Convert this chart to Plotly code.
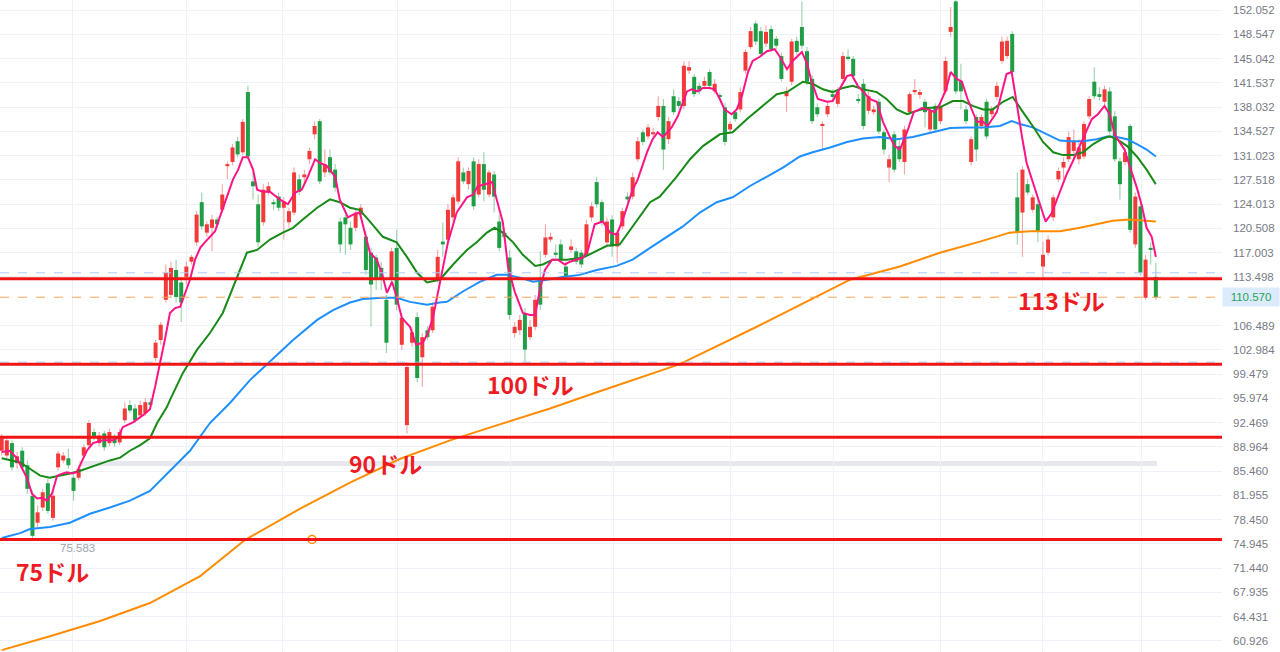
import numpy as np
import plotly.graph_objects as go

# ---------------- candle data ----------------
opens = [88.4,87.7,89.5,86.6,88.4,86.3,81.9,78.0,80.2,83.7,78.7,86.0,87.0,87.3,84.5,84.5,87.7,89.2,91.1,89.5,
         90.9,89.5,90.3,89.6,92.8,95.0,94.5,93.5,93.8,95.4,101.8,104.4,110.2,110.9,114.5,112.7,113.5,115.7,118.5,124.3,
         119.9,120.6,121.8,123.2,129.5,130.1,133.1,131.5,140.2,127.3,124.0,121.4,125.7,124.3,125.1,123.5,121.4,122.8,127.6,127.9,
         130.5,134.1,136.0,128.6,130.8,129.0,121.5,122.1,120.6,120.6,122.5,119.3,117.0,116.3,114.8,110.2,113.1,117.7,103.7,92.1,
         104.0,107.7,101.9,105.8,105.8,113.1,118.6,118.9,122.1,124.4,128.6,126.9,130.2,125.4,129.8,125.4,128.3,121.5,119.9,116.3,
         105.4,105.8,108.3,104.8,106.3,113.4,116.7,118.9,117.0,118.2,115.0,117.4,117.2,117.0,116.7,122.1,127.2,124.3,118.5,121.8,
         117.9,120.8,125.1,125.1,130.5,134.4,133.8,134.1,136.6,138.2,133.4,139.6,138.9,138.2,143.3,142.4,141.1,141.1,143.1,140.3,
         139.6,138.0,134.8,137.3,137.7,143.3,146.7,150.1,149.0,147.2,149.3,147.9,145.4,139.6,141.7,147.6,149.6,146.1,142.1,138.0,
         135.3,137.0,139.9,138.5,142.1,145.3,145.0,139.2,141.4,137.5,137.3,138.8,134.4,129.3,134.1,132.4,130.1,137.3,140.2,139.8,
         138.8,134.8,138.2,136.0,140.3,148.9,153.3,141.8,137.7,130.1,136.6,135.3,138.8,137.0,139.5,144.7,145.4,148.6,125.0,122.8,
         126.9,123.2,124.0,115.0,117.0,122.1,127.6,129.3,130.5,131.7,130.5,130.9,136.7,141.7,139.9,138.8,140.3,136.7,130.2,130.1,
         135.3,118.2,123.7,110.5,117.7,113.5]
highs = [90.8,90.5,89.9,88.2,88.9,87.0,82.6,80.5,82.9,84.4,82.6,88.4,88.2,88.7,85.3,86.3,89.3,92.8,91.6,91.1,
         91.3,91.6,90.8,91.6,95.4,95.7,95.1,95.6,96.0,96.0,104.4,107.0,115.3,115.7,116.0,113.4,115.7,116.7,123.0,125.7,
         121.5,122.5,122.2,126.9,130.2,132.7,133.7,136.3,141.1,128.6,125.4,126.9,127.2,124.7,125.7,125.0,123.5,129.3,128.3,129.0,
         132.2,136.0,136.3,131.9,131.9,129.8,122.1,122.5,121.5,123.2,124.0,120.1,117.7,116.7,115.7,110.9,117.7,120.3,108.3,101.2,
         106.3,108.4,105.4,106.4,109.8,117.4,121.4,124.0,125.4,130.8,129.3,129.3,130.8,130.5,131.5,129.0,128.8,122.5,120.6,117.4,
         107.0,108.0,109.0,107.3,110.9,117.2,121.1,119.9,118.2,118.9,115.7,118.9,117.7,117.4,121.8,124.3,127.9,124.7,122.1,122.4,
         120.3,123.5,125.7,128.6,133.7,134.8,135.6,135.1,139.6,139.2,136.6,140.6,139.5,144.6,144.7,142.8,141.5,142.4,143.5,142.1,
         140.1,138.6,136.0,137.7,140.9,146.4,149.6,150.5,149.6,149.9,149.8,148.3,145.9,140.9,147.9,148.2,153.3,146.7,142.7,138.6,
         136.0,138.8,140.6,140.9,146.0,146.4,145.4,139.9,142.1,140.2,138.2,139.2,134.8,131.2,134.5,133.4,135.3,140.3,142.1,140.6,
         139.2,138.0,138.6,138.6,145.3,152.5,153.5,144.3,138.3,133.8,137.0,137.0,139.2,138.2,141.7,148.2,148.2,149.0,128.6,129.5,
         127.6,125.4,124.7,118.6,119.5,125.4,129.3,130.8,134.5,134.8,133.4,136.0,139.6,143.8,140.9,141.1,140.9,137.5,130.8,131.9,
         135.6,125.7,124.1,116.7,118.5,115.6]
lows = [87.7,87.3,85.5,85.8,85.5,82.2,75.7,77.3,79.7,79.3,78.3,85.5,86.6,85.8,81.2,84.1,87.3,88.7,89.9,89.0,
        88.4,89.0,89.0,89.2,92.4,93.8,92.4,93.1,93.4,94.2,101.3,103.7,109.8,110.5,109.8,107.0,112.4,115.3,118.0,120.3,
        119.3,117.2,120.6,122.8,127.6,129.6,130.8,131.1,130.5,124.7,117.9,120.9,125.3,123.2,123.0,118.9,120.6,122.4,125.3,126.9,
        129.8,133.4,126.9,127.9,128.2,125.8,117.0,116.7,117.4,120.1,122.1,113.8,106.3,111.6,111.6,102.5,112.4,108.7,103.0,90.9,
        103.4,98.3,97.6,104.4,105.4,112.7,116.4,118.5,121.5,124.0,126.9,126.1,123.2,125.0,124.4,125.0,122.8,117.2,118.9,107.3,
        104.7,105.1,101.2,104.4,105.8,108.7,116.3,118.5,116.3,115.6,113.1,117.0,115.3,114.8,116.3,121.5,123.5,120.9,118.0,116.4,
        115.6,120.3,124.3,124.7,130.1,132.5,133.4,133.7,136.1,129.0,132.7,136.9,137.7,137.7,142.8,139.5,139.9,140.6,140.6,139.9,
        139.2,132.5,134.4,135.9,137.3,142.8,146.4,147.0,145.3,146.7,146.0,146.4,141.7,137.3,141.2,145.6,146.4,141.2,135.6,136.6,
        131.9,136.6,139.0,138.0,141.7,144.7,142.1,138.5,134.8,137.0,136.9,134.1,131.2,127.2,128.6,130.1,128.3,136.9,139.8,139.2,
        135.1,134.4,134.4,135.6,139.9,148.2,139.9,137.7,135.6,129.6,130.2,134.8,133.4,136.6,139.0,144.3,145.0,142.7,118.2,116.4,
        125.3,122.8,118.5,113.5,116.6,121.6,127.2,127.6,130.1,130.5,129.8,130.5,136.3,139.2,139.0,138.3,134.1,130.1,124.7,129.6,
        119.9,117.7,113.7,110.2,115.3,110.2]
closes = [90.2,89.9,86.0,87.6,86.0,82.9,76.1,79.5,82.4,79.7,81.9,88.0,87.7,86.3,82.6,85.8,88.9,92.4,90.3,90.6,
          88.9,91.1,89.5,91.1,94.5,94.2,92.8,95.0,95.4,95.0,104.0,106.6,114.1,114.8,110.6,109.8,115.0,116.4,122.5,120.8,
          121.1,121.8,121.1,125.4,129.8,132.2,131.2,135.9,130.9,126.6,118.5,126.1,126.6,124.0,123.5,124.4,123.0,128.6,125.8,128.3,
          131.7,135.3,127.3,129.8,128.6,126.4,118.2,121.1,118.2,122.8,123.5,114.5,112.4,113.1,113.1,104.0,117.2,109.5,107.6,100.5,
          105.5,98.9,104.8,104.8,109.2,116.4,118.2,123.2,125.0,130.2,127.3,128.8,123.7,129.8,126.1,128.6,125.1,117.7,119.3,108.0,
          106.3,107.3,103.0,106.3,110.2,109.5,119.2,119.3,116.7,116.0,113.5,117.9,115.7,115.3,121.1,123.7,124.0,121.4,121.5,117.9,
          119.9,123.0,124.7,127.9,133.1,133.0,135.1,134.4,138.2,131.9,136.0,137.3,138.2,144.0,143.8,139.9,140.3,141.8,141.1,141.4,
          139.5,133.0,135.6,136.3,140.2,146.0,149.0,147.5,145.7,148.9,146.4,146.9,142.1,140.3,147.5,146.0,146.9,141.7,136.0,137.0,
          135.6,138.2,139.5,140.3,145.4,145.1,142.5,138.9,135.3,139.6,137.7,134.5,131.9,130.5,129.0,130.5,134.8,139.9,140.5,140.2,
          137.3,137.5,134.8,138.2,144.7,149.6,140.3,140.3,136.0,133.4,131.9,136.6,133.8,137.7,141.1,147.5,147.6,143.1,119.9,129.0,
          125.7,125.0,120.1,116.7,118.9,125.0,128.8,130.1,133.7,133.1,132.2,135.6,139.2,139.6,139.5,140.6,134.5,130.5,126.9,131.5,
          120.3,125.1,114.1,116.0,117.4,110.57]

# ---------------- moving averages ----------------
ma_short_x = [0,1.6,3.0,4.9,5.9,6.9,7.9,8.8,9.8,10.8,11.8,12.7,13.7,14.7,15.7,16.6,17.8,19.7,21.7,22.7,
              23.6,25.6,27.5,28.9,29.9,30.9,31.8,32.8,33.8,34.8,35.7,36.7,37.7,38.7,39.6,40.6,41.6,42.5,43.9,45.1,
              46.1,47.0,48.0,49.0,49.8,50.9,52.3,54.2,55.8,57.2,58.5,59.7,61.1,62.0,63.4,65.0,65.9,67.5,68.5,69.8,
              70.8,71.8,73.1,74.1,75.1,76.1,77.0,78.0,79.6,80.8,82.1,83.1,84.1,85.4,87.0,88.7,90.7,91.9,92.8,94.2,
              95.6,96.5,97.7,98.7,100.0,101.6,103.0,104.0,104.9,105.9,107.3,108.4,109.8,110.8,112.1,113.3,114.3,115.6,117.2,118.6,
              119.9,121.1,123.0,124.0,125.8,126.9,127.9,128.9,130.6,131.8,133.6,134.5,135.7,136.7,138.0,139.0,140.0,140.9,142.3,143.3,
              144.3,145.5,146.4,147.8,149.2,150.7,151.7,153.1,154.2,156.0,157.0,157.9,159.1,160.9,162.0,163.4,164.8,165.7,166.9,167.9,
              169.2,170.6,171.8,173.1,174.1,175.1,176.5,177.8,179.4,181.0,181.9,182.9,184.1,185.0,186.2,187.2,188.3,190.1,191.3,192.2,
              194.0,195.0,195.9,196.9,197.9,198.9,199.8,201.0,202.4,203.5,204.7,205.9,207.6,209.2,210.7,212.5,213.7,215.0,216.0,217.0,
              217.9,218.9,219.9,221.3,222.3,223.2,224.2,225.0]
ma_short = [88.2,88.4,87.3,84.5,82.2,81.5,81.6,81.2,82.2,84.8,85.1,85.3,85.1,85.3,87.0,88.4,89.5,89.9,89.9,90.3,
            91.8,92.5,93.5,94.4,97.6,101.1,104.4,108.3,109.0,109.2,111.2,113.1,116.0,117.7,118.5,119.3,120.1,122.1,125.1,127.6,
            129.0,130.8,130.8,129.0,126.1,125.8,125.8,124.7,124.0,125.7,126.1,128.0,130.5,130.0,129.5,128.0,124.7,122.1,122.5,122.8,
            119.9,117.0,116.0,114.1,111.2,112.8,110.6,107.6,106.3,103.7,104.0,105.4,107.7,112.4,118.5,122.8,125.0,125.4,126.6,126.9,
            127.2,124.7,121.4,115.0,111.4,108.3,108.0,108.0,111.6,114.5,116.0,116.0,115.3,115.7,116.0,116.3,117.4,121.1,121.5,119.9,
            119.6,121.8,126.1,127.6,131.5,133.4,134.4,133.7,135.1,136.7,140.3,140.6,140.3,140.8,140.8,140.6,139.2,137.7,137.0,137.7,
            139.6,143.1,144.7,145.3,146.1,146.4,145.3,143.5,144.7,146.0,144.3,141.7,139.2,138.8,138.9,140.6,142.5,142.7,141.1,140.3,
            139.2,138.8,135.9,133.8,132.4,131.9,134.4,137.3,137.9,137.6,137.3,138.5,140.6,143.1,142.1,141.7,139.2,135.9,135.9,135.3,
            137.3,140.2,142.8,143.1,138.2,133.8,130.0,127.3,124.0,121.5,122.7,125.1,128.3,130.8,133.4,136.3,137.0,138.2,137.0,134.1,
            133.0,131.9,129.5,126.4,123.7,120.6,119.3,116.4]

ma_mid_x = [0,1.6,3.6,5.5,7.5,9.4,11.4,13.3,15.3,17.2,19.2,21.1,23.1,25.0,27.0,28.9,30.3,32.2,32.8,35.3,
            38.1,40.6,43.1,45.9,47.8,49.8,52.3,54.8,56.8,58.7,61.5,64.0,65.9,67.9,69.8,71.8,74.3,77.0,79.0,81.0,
            82.9,85.4,88.0,90.7,92.6,94.6,96.1,97.7,99.7,101.6,104.0,105.5,107.4,110.2,113.3,115.3,118.0,120.5,123.0,126.4,
            128.3,131.6,134.2,136.7,140.0,142.5,145.3,148.4,151.1,153.1,155.6,156.2,158.1,160.1,162.0,164.0,165.9,167.9,170.6,172.5,
            174.5,176.5,178.4,180.4,182.9,185.4,187.4,189.3,191.3,193.2,195.2,197.1,199.1,201.0,203.0,205.0,206.9,208.9,210.8,212.8,
            214.7,216.0,217.4,219.4,221.3,223.2,225.0]
ma_mid = [87.3,87.0,86.7,85.8,84.8,84.5,84.8,85.1,85.5,86.0,86.6,87.0,87.4,88.4,89.2,90.2,92.4,94.7,95.7,99.6,
          103.0,105.4,108.3,113.5,117.0,117.4,118.9,119.9,120.6,121.8,123.5,124.7,124.3,123.5,123.2,121.5,119.3,118.5,116.4,114.1,
          112.7,113.1,115.3,117.4,118.5,119.9,120.6,119.9,118.5,116.7,115.1,115.3,116.0,116.0,116.3,117.0,118.0,118.2,120.8,124.3,
          125.1,128.0,130.5,132.4,134.1,134.4,136.3,138.2,139.9,140.2,141.4,141.7,141.4,140.6,140.2,140.8,141.1,140.6,140.2,139.2,
          137.7,137.0,137.5,137.9,138.0,138.9,138.9,138.2,137.7,137.7,138.8,139.5,137.3,135.3,133.0,131.5,131.1,131.1,131.5,132.7,
          133.5,133.8,133.4,132.4,130.9,129.0,126.9]

ma_long_x = [0,3.6,5.5,9.4,13.3,17.2,21.1,25.0,28.9,30.9,32.8,36.7,40.6,44.5,48.4,52.3,56.8,61.5,64.6,67.9,
             70.4,74.3,77.0,79.6,82.9,85.4,86.8,89.9,93.2,96.5,98.5,101.0,103.6,106.3,109.4,112.7,116.0,119.9,123.0,126.4,
             129.7,132.8,136.1,139.4,142.5,145.8,149.2,152.3,155.6,158.1,161.5,164.8,167.9,171.2,174.5,177.6,181.5,184.9,188.2,191.3,
             194.6,196.9,198.5,201.0,203.8,206.3,208.3,210.8,213.5,215.5,217.4,219.4,221.3,223.2,225.0]
ma_long = [75.8,76.5,77.1,77.4,78.0,79.3,80.2,81.2,82.6,84.1,85.5,88.4,92.4,95.3,98.6,101.3,104.4,107.3,108.7,109.8,
           110.3,110.5,110.5,109.9,109.5,109.8,109.9,111.4,112.8,113.8,113.8,113.4,112.8,113.1,113.5,113.8,114.5,115.1,116.0,117.7,
           119.3,120.8,122.8,124.3,125.0,126.6,128.0,129.3,130.9,131.5,132.2,133.0,133.5,133.7,133.4,133.7,134.4,135.0,135.1,135.1,
           135.3,136.0,135.6,135.1,134.1,133.2,133.1,133.1,133.4,133.8,133.7,133.4,132.7,131.9,130.9]

ma_200_x = [0,9.4,19.2,28.9,38.7,47.4,58.1,67.9,77.6,87.4,97.1,106.9,116.6,126.4,132.2,145.8,155.6,165.4,175.1,182.9,
            190.7,196.5,200.4,206.3,210.2,213.5,216.6,219.9,223.2,225.0]
ma_200 = [59.6,61.6,63.8,66.4,70.3,75.5,80.0,83.8,87.2,89.9,92.2,94.5,97.0,99.5,100.9,105.8,109.5,113.1,115.0,117.0,
          118.6,119.9,120.1,120.1,120.6,121.1,121.6,121.8,121.6,121.5]

# ---------------- levels, labels, ticks ----------------
levels = [113.25, 100.9, 90.35, 75.58]
level_texts = ["113ドル", "100ドル", "90ドル", "75ドル"]
level_text_x = [206.7, 103.0, 74.9, 9.9]
level_text_y = [110.1, 98.0, 86.6, 71.1]
dash_blue_levels = [114.1, 101.2]
last_price = 110.570
marker_x = [60.5]
marker_y = [75.58]
band = [15.0, 225.2, 86.2, 86.9]
month_breaks = [13.9, 36.1, 54.8, 77.1, 99.1, 119.2, 142.0, 162.1, 183.1, 203.0, 222.3]
ytick_vals = [152.052, 148.547, 145.042, 141.537, 138.032, 134.527, 131.023, 127.518, 124.013, 120.508,
              117.003, 113.498, 106.489, 102.984, 99.479, 95.974, 92.469, 88.964, 85.460, 81.955,
              78.450, 74.945, 71.440, 67.935, 64.431, 60.926]

# ---------------- figure ----------------
o = np.array(opens); h = np.array(highs); l = np.array(lows); c = np.array(closes)
x = np.arange(len(o))
up = c >= o
RED = "#f23a3a"
GREEN = "#1f9e45"
wick_colors = np.where(up, "rgba(242,58,58,0.45)", "rgba(31,158,69,0.45)")
body_colors = np.where(up, RED, GREEN)

fig = go.Figure()

fig.add_trace(go.Bar(x=x, base=l, y=h - l, width=0.22,
                     marker=dict(color=wick_colors, line=dict(width=0)), hoverinfo="skip"))
fig.add_trace(go.Bar(x=x, base=np.minimum(o, c), y=np.maximum(np.abs(c - o), 0.2), width=0.78,
                     marker=dict(color=body_colors, line=dict(width=0)), hoverinfo="skip"))

fig.add_trace(go.Scatter(x=ma_200_x, y=ma_200, mode="lines", line=dict(color="#ff8c00", width=2)))
fig.add_trace(go.Scatter(x=ma_long_x, y=ma_long, mode="lines", line=dict(color="#1e8fff", width=2)))
fig.add_trace(go.Scatter(x=ma_mid_x, y=ma_mid, mode="lines", line=dict(color="#178a17", width=2)))
fig.add_trace(go.Scatter(x=ma_short_x, y=ma_short, mode="lines", line=dict(color="#ff1486", width=2)))

shapes = []
shapes.append(dict(type="rect", xref="x", yref="y", x0=band[0], x1=band[1], y0=band[2], y1=band[3],
                   fillcolor="#e6e8ee", line=dict(width=0), layer="below"))
for lv in dash_blue_levels:
    shapes.append(dict(type="line", xref="paper", yref="y", x0=0, x1=1, y0=lv, y1=lv,
                       line=dict(color="#a9cbf3", width=1, dash="dash")))
shapes.append(dict(type="line", xref="paper", yref="y", x0=0, x1=1, y0=last_price, y1=last_price,
                   line=dict(color="#f7a45a", width=1, dash="dash")))
for lv in levels:
    shapes.append(dict(type="line", xref="paper", yref="y", x0=0, x1=1, y0=lv, y1=lv,
                       line=dict(color="#f01414", width=3)))

fig.add_trace(go.Scatter(x=marker_x, y=marker_y, mode="markers",
                         marker=dict(symbol="circle", size=8, color="white",
                                     line=dict(color="#ff8c00", width=1.5))))

annotations = []
for t, tx, ty in zip(level_texts, level_text_x, level_text_y):
    annotations.append(dict(x=tx, y=ty, xref="x", yref="y", text=t, showarrow=False,
                            font=dict(family="Noto Sans CJK JP", size=23, color="#ed1c24", weight=700)))
annotations.append(dict(x=14.7, y=74.3, xref="x", yref="y", text=f"{levels[3] + 0.003:.3f}", showarrow=False,
                        font=dict(family="Liberation Sans", size=11.5, color="#a0a3ad")))
annotations.append(dict(x=1, y=last_price, xref="paper", yref="y", xanchor="left", text=f"{last_price:.3f}",
                        showarrow=False, width=54, height=16, align="center", bgcolor="#dbeafc",
                        font=dict(family="Liberation Sans", size=11.5, color="#27a35a")))

fig.update_layout(
    width=1280, height=652,
    margin=dict(l=0, r=58, t=0, b=0),
    paper_bgcolor="white", plot_bgcolor="white",
    barmode="overlay", showlegend=False,
    shapes=shapes, annotations=annotations,
    xaxis=dict(range=[-0.33, 237.9], tickvals=month_breaks, showticklabels=False, ticks="",
               showgrid=True, gridcolor="#eef1f7", gridwidth=1, zeroline=False, showline=False,
               rangeslider=dict(visible=False), fixedrange=True),
    yaxis=dict(range=[59.33, 153.5], side="right", tickvals=ytick_vals,
               ticktext=[f"{v:.3f}" for v in ytick_vals], ticks="", ticklabelstandoff=10,
               tickfont=dict(family="Liberation Sans", size=11.5, color="#787b86"),
               showgrid=True, gridcolor="#eef1f7", gridwidth=1, zeroline=False, showline=False,
               fixedrange=True),
)

fig.write_html("out.html", config={"displayModeBar": False},
               post_script="document.body.style.margin='0';document.body.style.overflow='hidden';")
